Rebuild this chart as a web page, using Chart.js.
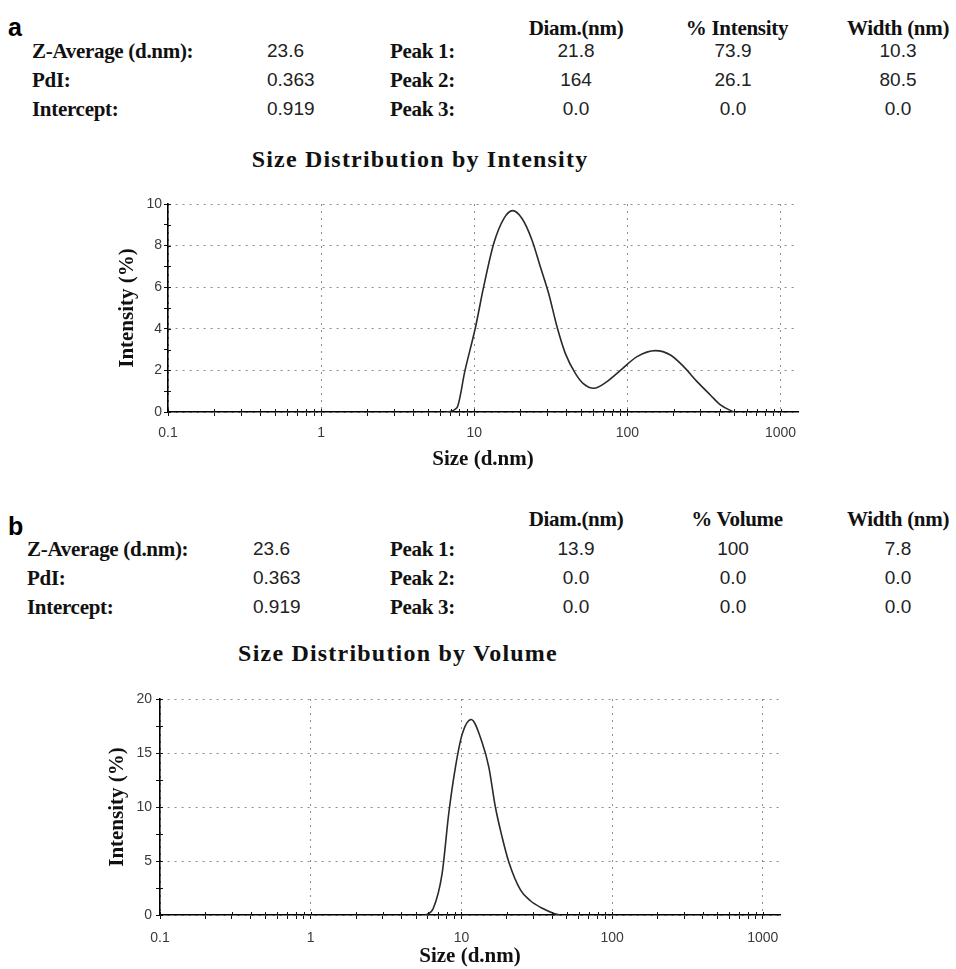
<!DOCTYPE html>
<html>
<head>
<meta charset="utf-8">
<script src="https://cdn.jsdelivr.net/npm/chart.js@4/dist/chart.umd.min.js"></script>
<style>
  html, body { margin: 0; padding: 0; background: #fff; }
  #page { position: relative; width: 956px; height: 969px; overflow: hidden; }
  .t { position: absolute; white-space: nowrap; transform: translateY(-50%); line-height: 1; }
  .c { transform: translate(-50%, -50%); }
  .lbl { font: bold 21px "Liberation Serif", "DejaVu Serif", serif; color: #111; letter-spacing: -0.3px; }
  .num { font: 19px "Liberation Sans", Arial, sans-serif; color: #222; }
  .panel { font: bold 25px "Liberation Sans", Arial, sans-serif; color: #000; }
  .title { font: bold 24px "Liberation Serif", "DejaVu Serif", serif; color: #111; letter-spacing: 1.2px; }
  canvas { position: absolute; left: 0; }
</style>
</head>
<body>
<div id="page">
  <canvas id="chartA" width="956" height="300" style="top:180px"></canvas>
  <canvas id="chartB" width="956" height="289" style="top:680px"></canvas>
</div>
<script>
// ===== Data =====
const infoLabels = ["Z-Average (d.nm):", "PdI:", "Intercept:"];
const infoValues = ["23.6", "0.363", "0.919"];
const peakLabels = ["Peak 1:", "Peak 2:", "Peak 3:"];

const headersA = ["Diam.(nm)", "% Intensity", "Width (nm)"];
const diamA = ["21.8", "164", "0.0"];
const pctA = ["73.9", "26.1", "0.0"];
const widthA = ["10.3", "80.5", "0.0"];

const headersB = ["Diam.(nm)", "% Volume", "Width (nm)"];
const diamB = ["13.9", "0.0", "0.0"];
const pctB = ["100", "0.0", "0.0"];
const widthB = ["7.8", "0.0", "0.0"];

// size distribution by intensity (d.nm, %)
const sizeA = [6.6, 7.7, 8.7, 10.2, 11.5, 13.4, 15.6, 17.8, 20.5, 23.8, 27.0, 30.6, 34.7, 39.3, 45.7, 51.8, 60.3, 73.6, 90, 115.6, 152, 191, 233, 285, 348, 405, 495];
const intensityA = [0, 0.2, 2.0, 4.1, 6.0, 8.1, 9.3, 9.68, 9.3, 8.27, 6.98, 5.7, 4.1, 2.82, 1.86, 1.35, 1.14, 1.46, 2.0, 2.66, 2.95, 2.74, 2.18, 1.46, 0.82, 0.34, 0];

// size distribution by volume (d.nm, %)
const sizeB = [5.8, 6.5, 7.45, 8.24, 9.13, 10.1, 11.6, 13.7, 15.2, 16.8, 18.6, 20.6, 24.7, 28.7, 34.4, 41.1, 45];
const volumeB = [0, 0.6, 3.86, 9.4, 13.7, 16.7, 18.1, 16.0, 13.7, 10.0, 7.25, 4.94, 2.3, 1.32, 0.62, 0.15, 0];

const xMajor = [0.1, 1, 10, 100, 1000];
const xTickLabels = ["0.1", "1", "10", "100", "1000"];
const yMajorA = [0, 2, 4, 6, 8, 10];
const yMinorA = [1, 3, 5, 7, 9];
const yMajorB = [0, 5, 10, 15, 20];
const yMinorB = [2.5, 7.5, 12.5, 17.5];

// ===== Text blocks =====
const page = document.getElementById("page");
function place(text, x, y, cls, center) {
  const d = document.createElement("div");
  d.className = "t " + cls + (center ? " c" : "");
  d.style.left = x + "px";
  d.style.top = y + "px";
  d.textContent = text;
  page.appendChild(d);
}

function infoBlock(o) {
  place(o.panel, 8, o.panelY, "panel");
  o.headers.forEach((h, i) => place(h, o.cols[i], o.headY, "lbl", true));
  for (let r = 0; r < 3; r++) {
    const y = o.rowY[r];
    place(infoLabels[r], o.labelX, y, "lbl");
    place(infoValues[r], o.valueX, y, "num");
    place(peakLabels[r], 390, y, "lbl");
    place(o.diam[r], o.cols[0], y, "num", true);
    place(o.pct[r], o.cols[1] - 4, y, "num", true);
    place(o.width[r], o.cols[2], y, "num", true);
  }
  place(o.title, o.titleX, o.titleY, "title", true);
}

infoBlock({
  panel: "a", panelY: 27, headY: 28, rowY: [51, 80, 109],
  labelX: 32, valueX: 267, cols: [576, 737, 898],
  headers: headersA, diam: diamA, pct: pctA, width: widthA,
  title: "Size Distribution by Intensity", titleX: 420, titleY: 159,
});
infoBlock({
  panel: "b", panelY: 526, headY: 519, rowY: [549, 578, 607],
  labelX: 27, valueX: 253, cols: [576, 737, 898],
  headers: headersB, diam: diamB, pct: pctB, width: widthB,
  title: "Size Distribution by Volume", titleX: 398, titleY: 653,
});

// ===== Charts =====
const minorMult = [2, 3, 4, 5, 6, 7, 8, 9];
function logTicks() {
  const out = [];
  xMajor.forEach((m, i) => {
    out.push({ value: m, major: true });
    if (i < xMajor.length - 1) minorMult.forEach((k) => out.push({ value: m * k, major: false }));
  });
  return out;
}

function linTicks(major, minor) {
  return major.map((v) => ({ value: v, major: true }))
    .concat(minor.map((v) => ({ value: v, major: false })))
    .sort((a, b) => a.value - b.value);
}

// tick marks poke a little into the plot too, like the instrument software
const innerTicks = {
  id: "innerTicks",
  afterDatasetsDraw(chart) {
    const { ctx, scales: { x, y } } = chart;
    ctx.save();
    ctx.strokeStyle = "#111";
    ctx.lineWidth = 1;
    ctx.beginPath();
    x.ticks.forEach((t) => {
      const px = Math.round(x.getPixelForValue(t.value)) + 0.5;
      ctx.moveTo(px, x.top);
      ctx.lineTo(px, x.top - 3);
    });
    y.ticks.forEach((t) => {
      const py = Math.round(y.getPixelForValue(t.value)) + 0.5;
      ctx.moveTo(y.right, py);
      ctx.lineTo(y.right + 3, py);
    });
    ctx.stroke();
    ctx.restore();
  },
};

const gridColor = (ctx) => (ctx.tick && ctx.tick.major ? "#8c8c8c" : "rgba(0,0,0,0)");
const tickFont = { family: "Liberation Sans, Arial, sans-serif", size: 14 };
const titleFont = { family: "Liberation Serif, DejaVu Serif, serif", size: 21, weight: "bold" };

function makeChart(id, cfg) {
  return new Chart(document.getElementById(id), {
    type: "line",
    data: {
      datasets: [{
        data: cfg.xs.map((x, i) => ({ x, y: cfg.ys[i] })),
        borderColor: "#2a2a2a",
        borderWidth: 1.6,
        pointRadius: 0,
        fill: false,
        cubicInterpolationMode: "monotone",
      }],
    },
    options: {
      responsive: false,
      animation: false,
      events: [],
      layout: { padding: cfg.padding },
      plugins: { legend: { display: false }, tooltip: { enabled: false } },
      scales: {
        x: {
          type: "logarithmic",
          min: 0.1,
          max: 1300,
          afterBuildTicks: (s) => { s.ticks = logTicks(); },
          afterFit: (s) => { s.height = cfg.xHeight; },
          ticks: {
            autoSkip: false,
            maxRotation: 0,
            color: "#3a3a3a",
            font: tickFont,
            padding: cfg.xPad,
            callback: (v) => {
              const i = xMajor.indexOf(v);
              return i >= 0 ? xTickLabels[i] : "";
            },
          },
          grid: { color: gridColor, tickColor: "#111", tickLength: 4, tickWidth: 1, lineWidth: 1 },
          border: { color: "#000", width: 1.6, dash: [2, 5] },
          title: { display: true, text: "Size (d.nm)", color: "#111", font: titleFont, padding: 0 },
        },
        y: {
          min: 0,
          max: cfg.yMax,
          afterBuildTicks: (s) => { s.ticks = linTicks(cfg.yMajor, cfg.yMinor); },
          afterFit: (s) => { s.width = cfg.yWidth; },
          ticks: {
            autoSkip: false,
            color: "#3a3a3a",
            font: tickFont,
            padding: cfg.yPad,
            callback: (v) => (cfg.yMajor.includes(v) ? String(v) : ""),
          },
          grid: { color: gridColor, tickColor: "#111", tickLength: 4, tickWidth: 1, lineWidth: 1 },
          border: { color: "#000", width: 1.6, dash: [2, 5] },
          title: { display: true, text: "Intensity (%)", color: "#111", font: titleFont, padding: 0 },
        },
      },
    },
    plugins: [innerTicks],
  });
}

makeChart("chartA", {
  xs: sizeA, ys: intensityA,
  yMax: 10, yMajor: yMajorA, yMinor: yMinorA,
  padding: { left: 115, right: 158, top: 24, bottom: 8 },
  yWidth: 53, xHeight: 60, xPad: 9, yPad: 2,
});

makeChart("chartB", {
  xs: sizeB, ys: volumeB,
  yMax: 20, yMajor: yMajorB, yMinor: yMinorB,
  padding: { left: 105, right: 176, top: 19, bottom: 0 },
  yWidth: 55, xHeight: 54, xPad: 11, yPad: 4,
});
</script>
</body>
</html>
